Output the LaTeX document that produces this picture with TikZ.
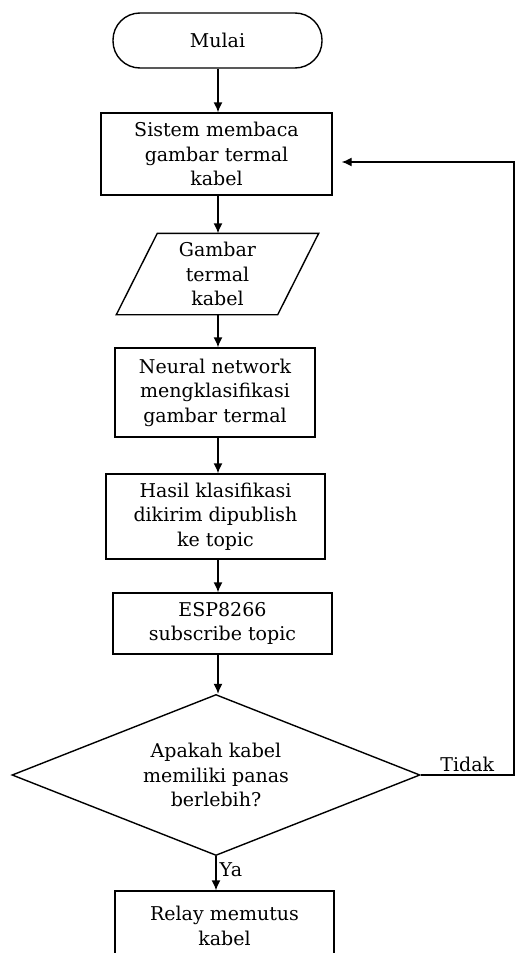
\documentclass[tikz,border=0pt]{standalone}
\usepackage{fontspec}
\setmainfont{DejaVu Serif}
\usetikzlibrary{shapes.geometric,arrows.meta}

\begin{document}
\begin{tikzpicture}[x=1pt,y=-1pt,line width=1.4pt,
  font=\fontsize{19}{24.5}\selectfont,
  box/.style={draw,rectangle,align=center,inner sep=0pt},
  arr/.style={-{Latex[length=10pt,width=9pt]}}]
\useasboundingbox (0,0) rectangle (517,953);
\coordinate (spine) at (218,0);
\coordinate (loop) at (514,162);

\node[box,rounded corners=27pt,minimum width=209pt,minimum height=55pt] (start) at (217.5,40.5) {Mulai};
\node[box,minimum width=231pt,minimum height=82pt] (read) at (216.5,154) {Sistem membaca\\gambar termal\\kabel};
\node[align=center,minimum width=201pt,minimum height=80pt,inner sep=0pt] (img) at (217.5,274) {Gambar\\termal\\kabel};
\draw ([xshift=41pt]img.north west) -- (img.north east) -- ([xshift=-41pt]img.south east) -- (img.south west) -- cycle;
\node[box,minimum width=200pt,minimum height=89pt] (nn) at (215,392.5) {Neural network\\mengklasifikasi\\gambar termal};
\node[box,minimum width=219pt,minimum height=85pt] (pub) at (215.5,516.5) {Hasil klasifikasi\\dikirim dipublish\\ke topic};
\node[box,minimum width=219pt,minimum height=61pt] (esp) at (222.5,623.5) {ESP8266\\subscribe topic};
\node[draw,diamond,aspect=2.53,align=center,minimum width=408pt,minimum height=161pt,inner sep=0pt] (dec) at (216,775) {Apakah kabel\\memiliki panas\\berlebih?};
\node[box,minimum width=219pt,minimum height=70pt] (relay) at (224.5,926) {Relay memutus\\kabel};

\draw[arr] (start.south -| spine) -- (read.north -| spine);
\draw[arr] (read.south -| spine) -- (img.north -| spine);
\draw[arr] (img.south -| spine) -- (nn.north -| spine);
\draw[arr] (nn.south -| spine) -- (pub.north -| spine);
\draw[arr] (pub.south -| spine) -- (esp.north -| spine);
\draw[arr] (esp.south -| spine) -- (dec.north -| spine);
\draw[arr] (dec.south) -- (relay.north -| dec.south) node[pos=0.4,right,inner sep=3pt] {Ya};
\draw[arr] (dec.east) -| (loop) node[pos=0.25,above,inner sep=3pt] {Tidak} -- ([xshift=9pt]read.east |- loop);
\end{tikzpicture}
\end{document}
